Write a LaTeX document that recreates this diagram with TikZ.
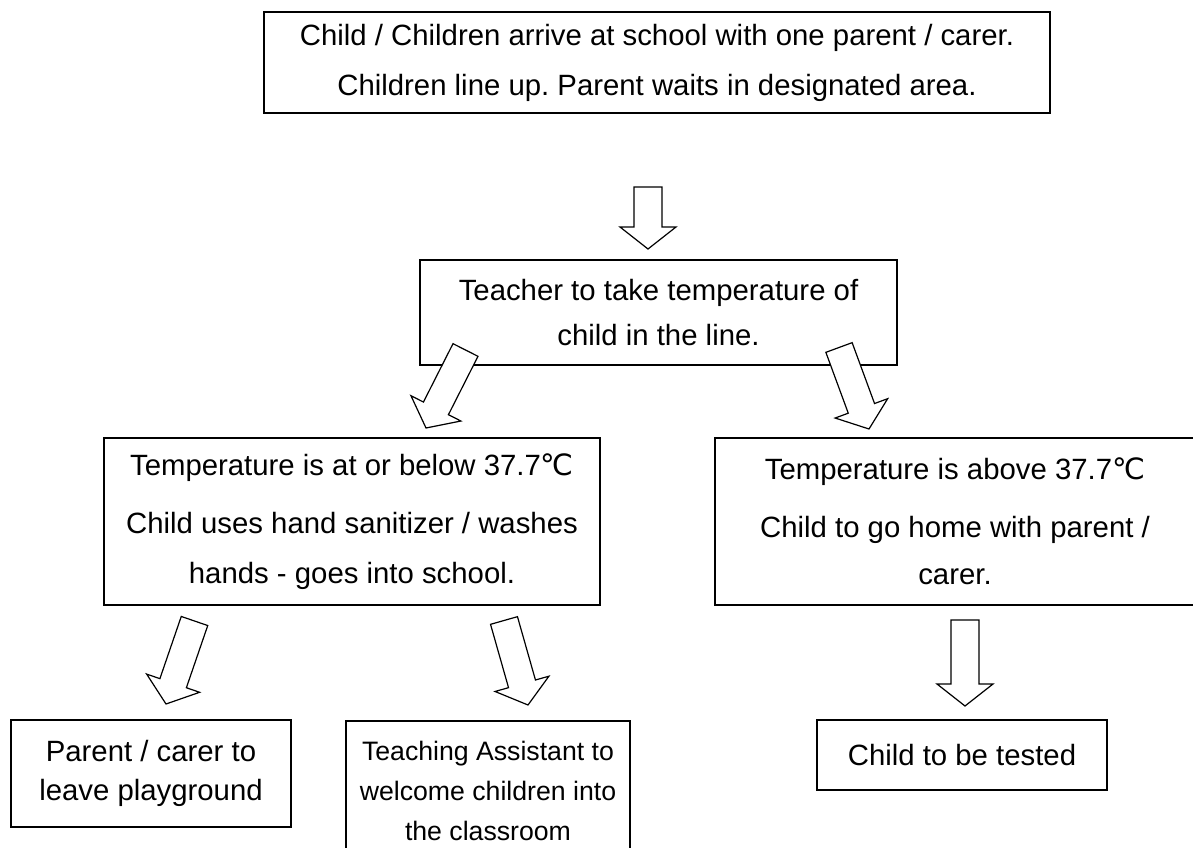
\documentclass[tikz,border=0pt]{standalone}
\usepackage{fontspec}
\setmainfont{Liberation Sans}
\newfontfamily\celsiusfont{DejaVu Sans}
\usetikzlibrary{positioning,calc}
\frenchspacing

\newcommand{\degC}{{\celsiusfont ℃}}
% hollow block arrow: name, start of shaft, tip
\newcommand{\hollowarrow}[3]{%
	\coordinate (#1-s) at #2;
	\coordinate (#1-t) at #3;
	\coordinate (#1-h) at ($(#1-t)!16.5pt!(#1-s)$);
	\draw[hollow] ($(#1-s)!10.5pt!90:(#1-t)$) -- ($(#1-h)!10.5pt!90:(#1-t)$) -- ($(#1-h)!21pt!90:(#1-t)$) -- (#1-t)
		-- ($(#1-h)!21pt!-90:(#1-t)$) -- ($(#1-h)!10.5pt!-90:(#1-t)$) -- ($(#1-s)!10.5pt!-90:(#1-t)$) -- cycle;
}

\begin{document}
\begin{tikzpicture}[x=0.75pt,y=-0.75pt,
	box/.style={draw, line width=1pt, inner sep=0pt, align=center, font=\fontsize{22}{29}\selectfont},
	hollow/.style={draw, fill=white, line width=0.9pt, line join=miter}]
	\fill[white] (0,0) rectangle (1193,848);
	\useasboundingbox (0,0) rectangle (1193,848);

	% Arrival
	\node[box, minimum width=589.5pt, minimum height=75.75pt] (arrive) at (657,62.5)
		{Child / Children arrive at school with one parent / carer.\\[8.5pt]Children line up. Parent waits in designated area.};
	\node[box, minimum width=357.75pt, minimum height=78.75pt] (teacher) at (658.5,312.5)
		{Teacher to take temperature of\\[4.75pt]child in the line.};

	% Temperature check
	\node[box, minimum width=372pt, minimum height=125.25pt] (below) at (352,521.5)
		{Temperature is at or below 37.7\degC\\[14.5pt]Child uses hand sanitizer / washes\\[8.5pt]hands - goes into school.};
	\node[box, minimum width=360pt, minimum height=125.25pt] (above) at (955,521.5)
		{Temperature is above 37.7\degC\\[14.5pt]Child to go home with parent /\\[6pt]carer.};

	% Outcomes
	\node[box, minimum width=210pt, minimum height=80.25pt] (leave) at (151,773.5)
		{Parent / carer to\\leave playground};
	\node[box, minimum width=213pt, minimum height=104.25pt, font=\fontsize{20}{30}\selectfont] (welcome) at (488,790.5)
		{Teaching Assistant to\\welcome children into\\the classroom};
	\node[box, minimum width=217.5pt, minimum height=52.5pt] (tested) at (962,755)
		{Child to be tested};

	% Arrows
	\hollowarrow{a1}{(648,187)}{(648,249)}
	\hollowarrow{a2}{(465.5,350)}{(426,428)}
	\hollowarrow{a3}{(839,347.5)}{(869,429)}
	\hollowarrow{a4}{(194.5,621)}{(166,704)}
	\hollowarrow{a5}{(504,620.5)}{(528,705)}
	\hollowarrow{a6}{(965,620)}{(965,706)}
\end{tikzpicture}
\end{document}
